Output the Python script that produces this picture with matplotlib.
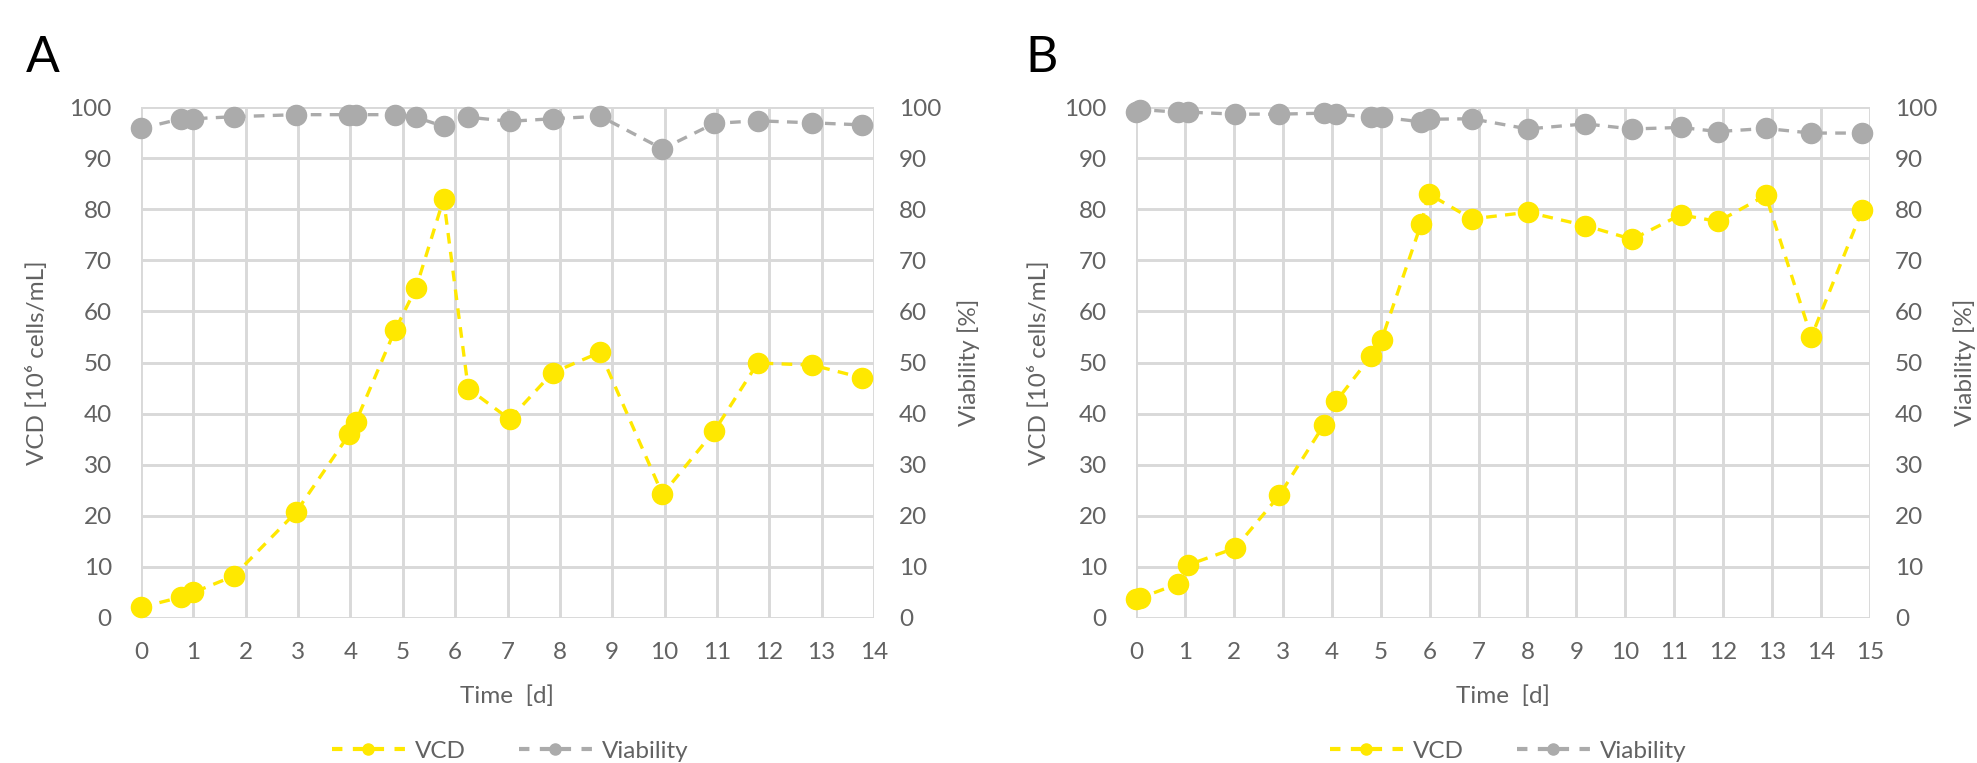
import numpy as np
import matplotlib
matplotlib.use("Agg")
import matplotlib.pyplot as plt
from matplotlib.lines import Line2D

plt.rcParams['font.family'] = ['Lato', 'DejaVu Sans']

# Panel A
t_a = [0, 0.77, 1.0, 1.77, 2.96, 3.98, 4.1, 4.85, 5.25, 5.78, 6.25, 7.04, 7.86, 8.77, 9.96, 10.95, 11.78, 12.82, 13.78]
vcd_a = [2.1, 4.1, 5.0, 8.2, 20.7, 36.0, 38.3, 56.3, 64.5, 82.0, 44.9, 38.9, 48.0, 52.0, 24.2, 36.6, 49.9, 49.5, 47.0]
via_a = [95.8, 97.7, 97.7, 98.1, 98.5, 98.5, 98.5, 98.5, 98.0, 96.2, 98.0, 97.2, 97.7, 98.2, 91.8, 96.8, 97.3, 96.9, 96.5]

# Panel B
t_b = [0, 0.08, 0.86, 1.07, 2.03, 2.93, 3.84, 4.09, 4.8, 5.02, 5.83, 5.98, 6.86, 8.01, 9.18, 10.14, 11.13, 11.9, 12.87, 13.8, 14.84]
vcd_b = [3.8, 3.9, 6.7, 10.4, 13.7, 24.0, 37.8, 42.4, 51.2, 54.5, 77.2, 83.0, 78.1, 79.4, 76.8, 74.1, 78.9, 77.6, 82.7, 55.0, 79.8]
via_b = [99.0, 99.5, 99.0, 99.0, 98.6, 98.6, 98.8, 98.6, 98.0, 98.0, 97.1, 97.6, 97.7, 95.7, 96.7, 95.7, 96.0, 95.2, 95.8, 94.9, 94.9]

yticks = list(range(0, 101, 10))
YELLOW = "#FFE800"
GRAY = "#ABABAB"
TXT = "#626262"
GRID = "#D9D9D9"
FS = 17.5

W, H = 1977, 763
TOP, BOT = 107, 618
fig = plt.figure(figsize=(W / 100, H / 100), dpi=100)


def panel(x0, x1, t, vcd, via, xmax, letter, letter_x, ylab_l, ylab_r, legend_x):
    w = x1 - x0
    h = BOT - TOP
    ax = fig.add_axes([x0 / W, 1 - BOT / H, w / W, h / H])
    ax2 = ax.twinx()
    for a in (ax, ax2):
        a.set_ylim(0, 100)
        a.set_yticks(yticks)
        for s in a.spines.values():
            s.set_visible(False)
        a.tick_params(length=0, labelsize=FS, colors=TXT)
    ax.tick_params(axis="y", pad=21)
    ax.tick_params(axis="x", pad=17)
    ax2.tick_params(axis="y", pad=18)
    ax.set_xlim(0, xmax)
    ax.set_xticks(range(0, xmax + 1))
    ax.grid(True, color=GRID, lw=2.1)
    ax.set_axisbelow(True)

    ax.plot(t, vcd, color=YELLOW, lw=2.4, ls=(0, (3.2, 2.5)), marker="o", ms=14.5,
            clip_on=False, zorder=3)
    ax2.plot(t, via, color=GRAY, lw=2.4, ls=(0, (3.2, 2.5)), marker="o", ms=14.5,
             clip_on=False, zorder=3)

    ax.set_xlabel("Time  [d]", fontsize=FS, color=TXT)
    ax.xaxis.set_label_coords(0.5, -(696 - BOT) / h)
    ax.xaxis.label.set_va("center")
    ax.set_ylabel("VCD [10⁶ cells/mL]", fontsize=FS, color=TXT)
    ax.yaxis.set_label_coords((ylab_l - x0) / w, 0.5)
    ax2.set_ylabel("Viability [%]", fontsize=FS, color=TXT)
    ax2.yaxis.set_label_coords((ylab_r - x0) / w, 0.5)

    fig.text(letter_x / W, 1 - 58 / H, letter, fontsize=36, color="black",
             ha="left", va="center")

    handles = [
        Line2D([], [], color=YELLOW, lw=3, ls=(0, (2.5, 2.5)), marker="o", ms=8),
        Line2D([], [], color=GRAY, lw=3, ls=(0, (2.5, 2.5)), marker="o", ms=8),
    ]
    fig.legend(handles, ["VCD", "Viability"], loc="center",
               bbox_to_anchor=(legend_x / W, 1 - 751 / H), ncol=2, frameon=False,
               fontsize=FS, labelcolor=TXT, handlelength=3.0, columnspacing=2.2,
               handletextpad=0.4)


panel(141, 874, t_a, vcd_a, via_a, 14, "A", 26, 48, 957, 510)
panel(1136, 1870, t_b, vcd_b, via_b, 15, "B", 1025, 1050, 1953, 1508)

fig.savefig("out.png", dpi=100, facecolor="white")
